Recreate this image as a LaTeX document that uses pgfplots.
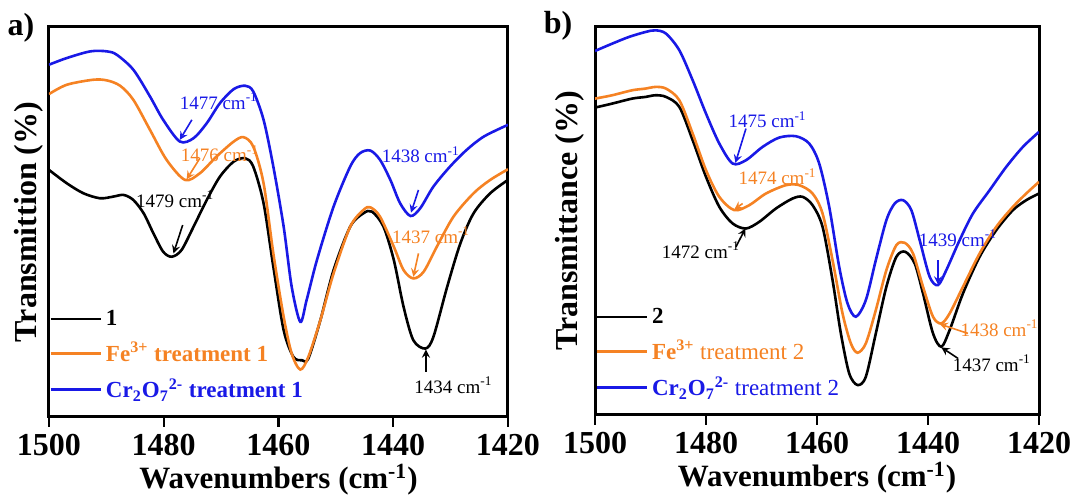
\documentclass[border=0pt]{standalone}
\usepackage{fontspec}
\setmainfont{Liberation Serif}
\usepackage{pgfplots}
\pgfplotsset{compat=1.18}
\definecolor{cblue}{RGB}{25,25,230}
\definecolor{corange}{RGB}{245,130,35}
\newcommand{\annfont}{\fontsize{9.5}{11}\selectfont}
\pgfplotsset{
 panel/.style={
  scale only axis, x dir=reverse, xmin=1420, xmax=1500, ymin=0,
  xtick={1420,1440,1460,1480,1500}, xtick pos=bottom, ytick=\empty, tick align=outside,
  major tick length=5pt, axis line style={line width=1.5pt},
  every tick/.style={line width=1.2pt, black},
  ticklabel style={font=\fontsize{16}{18}\selectfont\bfseries},
  xticklabel style={inner sep=1pt, yshift=-2.5pt},
  /pgf/number format/assume math mode=true, /pgf/number format/1000 sep={},
  xlabel style={font=\fontsize{15.5}{18}\selectfont\bfseries, at={(axis description cs:0.5,0)}, anchor=base, yshift=-36pt, inner sep=1pt},
  ylabel style={font=\fontsize{16}{18}\selectfont\bfseries, at={(axis description cs:0,0.5)}, anchor=south},
  legend style={draw=none, fill=none, at={(0,0.02)}, anchor=south west, font=\fontsize{11.5}{13}\selectfont, row sep=3pt, inner xsep=0pt},
  legend cell align=left,
  legend image code/.code={\draw[#1] (0pt,0pt) -- (25pt,0pt);},
  every axis plot/.append style={line width=1.3pt, smooth},
 }
}
\begin{document}
\begin{tikzpicture}
\path[use as bounding box] (0,0) rectangle (546pt,248.5pt);
\node[font=\fontsize{16}{18}\selectfont\bfseries] at (10.5pt,234.5pt) {a)};
\node[font=\fontsize{16}{18}\selectfont\bfseries] at (279pt,235.5pt) {b)};
% ---------------- panel a
\begin{axis}[panel, at={(24.5pt,40pt)}, anchor=south west, width=229.5pt, height=195pt, ymax=1168,
  xlabel={Wavenumbers (cm\textsuperscript{-1})}, ylabel={Transmittion (\%)},
  ylabel style={inner sep=2.5pt}, legend style={font=\fontsize{11.5}{13}\selectfont\bfseries}]
\addplot[black] table {
1500.0 740
1496.9 700
1494.0 670
1491.1 655
1488.8 660
1487.0 665
1485.3 650
1483.5 610
1481.8 550
1480.1 495
1478.6 480
1476.9 500
1474.8 570
1472.5 650
1470.2 720
1467.8 765
1465.8 775
1464.4 750
1462.6 640
1460.9 450
1459.1 260
1457.4 180
1455.9 170
1454.8 175
1452.7 290
1450.4 440
1447.5 570
1445.2 610
1443.7 615
1441.7 570
1439.9 470
1438.2 330
1436.5 230
1434.4 205
1433.0 240
1430.6 390
1428.3 520
1426.0 610
1423.1 670
1420.0 710
};
\addlegendentry{1}
\addplot[corange] table {
1500.0 967
1496.9 995
1492.3 1010
1489.9 1008
1487.6 992
1485.3 950
1482.4 860
1479.5 770
1476.3 710
1473.7 730
1470.8 780
1467.8 825
1466.1 838
1464.4 810
1462.6 700
1460.9 490
1459.1 300
1457.7 190
1456.2 142
1454.8 180
1452.7 290
1450.4 430
1447.5 570
1445.2 620
1444.0 628
1442.3 600
1439.9 510
1438.2 440
1436.5 415
1434.7 435
1432.4 510
1429.5 600
1426.0 670
1423.1 710
1420.0 742
};
\addlegendentry{\textcolor{corange}{Fe\textsuperscript{3+} treatment 1}}
\addplot[cblue] table {
1500.0 1055
1496.9 1075
1492.8 1095
1489.9 1095
1488.2 1085
1485.3 1040
1482.4 960
1480.1 890
1477.2 825
1474.8 835
1472.5 880
1470.2 940
1467.8 982
1465.8 992
1464.4 975
1462.6 890
1460.9 750
1459.1 570
1457.7 390
1456.2 285
1455.1 350
1453.3 470
1450.4 630
1447.5 750
1445.8 790
1444.0 798
1442.3 770
1440.5 710
1438.8 640
1437.0 602
1435.3 625
1433.0 690
1430.1 750
1427.2 800
1424.2 840
1420.0 875
};
\addlegendentry{\textcolor{cblue}{Cr\textsubscript{2}O\textsubscript{7}\textsuperscript{2-} treatment 1}}
\node[text=cblue, font=\annfont] at (axis cs:1470.4,945) {1477 cm\textsuperscript{-1}};
\draw[cblue, -stealth, line width=0.8pt] (axis cs:1475.1,890) -- (axis cs:1477.2,830);
\node[text=corange, font=\annfont] at (axis cs:1470.2,788) {1476 cm\textsuperscript{-1}};
\draw[corange, -stealth, line width=0.8pt] (axis cs:1473.7,775) -- (axis cs:1476.0,712);
\node[text=black, font=\annfont] at (axis cs:1478.0,652) {1479 cm\textsuperscript{-1}};
\draw[black, -stealth, line width=0.8pt] (axis cs:1476.7,575) -- (axis cs:1478.3,490);
\node[text=cblue, font=\annfont] at (axis cs:1435.2,785) {1438 cm\textsuperscript{-1}};
\draw[cblue, -stealth, line width=0.8pt] (axis cs:1435.6,680) -- (axis cs:1436.9,612);
\node[text=corange, font=\annfont] at (axis cs:1433.4,545) {1437 cm\textsuperscript{-1}};
\draw[corange, -stealth, line width=0.8pt] (axis cs:1435.6,490) -- (axis cs:1436.5,420);
\node[text=black, font=\annfont] at (axis cs:1429.5,95) {1434 cm\textsuperscript{-1}};
\draw[black, -stealth, line width=0.8pt] (axis cs:1434.3,135) -- (axis cs:1434.3,202);
\end{axis}
% ---------------- panel b
\begin{axis}[panel, at={(297.5pt,41pt)}, anchor=south west, width=222pt, height=194pt, ymax=1165,
  xlabel={Wavenumbers (cm\textsuperscript{-1})}, ylabel={Transmittance (\%)},
  ylabel style={inner sep=5pt}]
\addplot[black] table {
1500.0 923
1496.9 935
1493.3 950
1490.9 955
1489.1 960
1487.2 955
1484.8 925
1482.4 825
1480.0 715
1477.6 625
1475.2 575
1472.8 560
1470.4 580
1467.4 620
1464.4 650
1462.6 655
1460.8 630
1459.0 565
1457.2 405
1455.7 245
1454.2 125
1452.7 90
1451.2 115
1449.4 245
1447.5 385
1445.7 475
1444.1 490
1442.4 455
1440.9 365
1439.1 245
1437.6 205
1436.1 255
1433.7 365
1430.7 475
1427.7 555
1424.7 615
1422.3 645
1420.0 665
};
\addlegendentry{\textbf{2}}
\addplot[corange] table {
1500.0 950
1496.9 960
1493.3 975
1490.9 980
1489.1 985
1487.2 980
1484.8 945
1482.4 845
1480.0 735
1477.6 655
1474.9 615
1472.2 630
1469.2 665
1465.6 690
1463.2 690
1460.8 665
1459.0 605
1457.2 465
1455.4 305
1453.9 215
1452.7 187
1451.2 215
1449.4 315
1447.5 435
1445.7 510
1444.2 517
1442.7 485
1440.9 385
1439.1 295
1437.6 275
1436.1 305
1433.7 385
1430.7 485
1427.7 565
1424.7 625
1422.3 665
1420.0 700
};
\addlegendentry{\textcolor{corange}{\textbf{Fe\textsuperscript{3+}} treatment 2}}
\addplot[cblue] table {
1500.0 1093
1496.9 1115
1493.9 1135
1490.9 1150
1489.1 1155
1487.2 1145
1484.8 1095
1482.4 1005
1480.0 905
1477.6 815
1475.2 755
1472.8 765
1469.8 805
1466.8 833
1463.8 837
1461.4 815
1459.6 755
1457.8 625
1456.0 445
1454.5 335
1453.0 295
1451.2 345
1449.4 465
1447.5 585
1446.0 635
1444.5 645
1443.0 615
1441.5 525
1439.7 415
1438.2 390
1436.7 435
1434.3 525
1431.9 605
1428.9 675
1425.9 745
1422.9 805
1420.0 850
};
\addlegendentry{\textcolor{cblue}{\textbf{Cr\textsubscript{2}O\textsubscript{7}\textsuperscript{2-}} treatment 2}}
\node[text=cblue, font=\annfont] at (axis cs:1468.9,887) {1475 cm\textsuperscript{-1}};
\draw[cblue, -stealth, line width=0.8pt] (axis cs:1472.8,860) -- (axis cs:1474.7,757);
\node[text=corange, font=\annfont] at (axis cs:1467.1,715) {1474 cm\textsuperscript{-1}};
\draw[corange, -stealth, line width=0.8pt] (axis cs:1473.4,635) -- (axis cs:1474.9,617);
\node[text=black, font=\annfont] at (axis cs:1480.9,495) {1472 cm\textsuperscript{-1}};
\draw[black, -stealth, line width=0.8pt] (axis cs:1474.6,505) -- (axis cs:1472.9,560);
\node[text=cblue, font=\annfont] at (axis cs:1434.6,530) {1439 cm\textsuperscript{-1}};
\draw[cblue, -stealth, line width=0.8pt] (axis cs:1438.2,465) -- (axis cs:1438.2,392);
\node[text=corange, font=\annfont] at (axis cs:1427.1,260) {1438 cm\textsuperscript{-1}};
\draw[corange, -stealth, line width=0.8pt] (axis cs:1432.8,245) -- (axis cs:1437.9,273);
\node[text=black, font=\annfont] at (axis cs:1428.5,155) {1437 cm\textsuperscript{-1}};
\draw[black, -stealth, line width=0.8pt] (axis cs:1434.6,170) -- (axis cs:1437.6,203);
\end{axis}
\end{tikzpicture}
\end{document}
